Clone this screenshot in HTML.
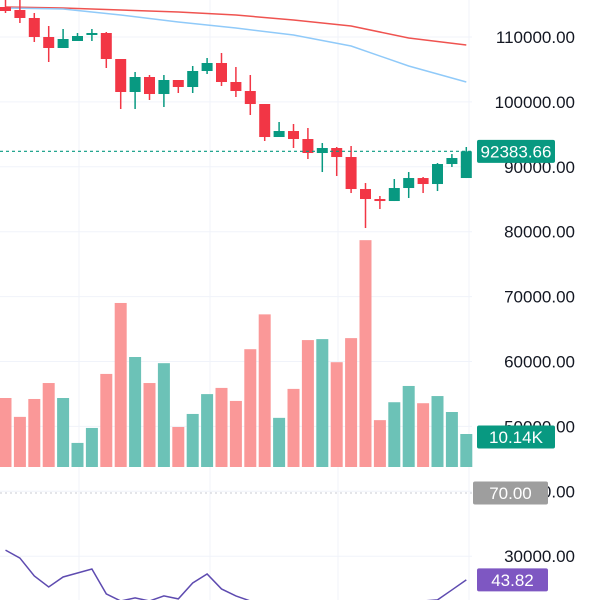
<!DOCTYPE html>
<html><head><meta charset="utf-8">
<style>
html,body{margin:0;padding:0;background:#fff;width:600px;height:600px;overflow:hidden}
svg{display:block;font-family:"Liberation Sans",sans-serif;overflow:hidden}
</style></head>
<body>
<svg id="chart" width="600" height="600" viewBox="0 0 600 600" xmlns="http://www.w3.org/2000/svg"><defs><clipPath id="clip"><rect x="0" y="0" width="600" height="600"/></clipPath></defs></svg>
<script>
const opens  =[114623,114161,112928,110000,108305,109384,110308,110616,106610,101525,103836,101216,103374,102295,104761,105993,103066,101679,99675,94590,95514,94282,92124,92895,91508,86577,85036,84727,86731,88271,87347,90429,88271];
const closes =[114007,112928,110000,108305,109692,110154,110616,106610,101525,103836,101216,103374,102295,104761,105993,103066,101679,99675,94590,95514,94282,92124,92895,91508,86577,85036,84727,86731,88271,87347,90429,91354,92384];
const highs  =[115702,116164,113698,111695,111233,110616,111233,110771,106610,104607,104144,104144,103374,105531,106764,107534,105377,104144,99675,96901,96593,95977,93665,93049,93203,87501,85498,88117,89196,88426,90583,91970,93049];
const lows   =[113698,112157,109230,106148,108305,109384,109384,105223,98905,98905,100292,99213,101370,101370,104298,102449,100754,97980,93974,94590,92895,91200,89196,88580,85960,80567,83494,84727,85190,85960,86268,89967,88271];
const volumes=[21.2,15.4,20.9,25.8,21.2,7.4,12.0,28.6,50.4,33.8,25.8,31.9,12.3,16.3,22.4,24.3,20.3,36.2,46.9,15.1,24.0,39.0,39.3,32.2,39.6,69.7,14.4,19.9,24.9,19.6,21.8,16.9,10.14];
const maIdx  =[0,4,8,12,16,20,24,28,32];
const maSlow =[114623,114469,114161,113853,113390,112620,111695,109846,108767];
const maFast =[114469,114315,113390,112311,111387,110308,108613,105531,103066];
const rsi    =[52.8,50.4,45,41.7,44.7,45.9,47.1,39.6,36,38.4,36.3,39,38.1,42.9,45.6,41.1,39,35.4,32,33,31,30,31,30,27,25,26,28,31,32,37.8,40.8,43.82];
const priceTicks=[110000,100000,90000,80000,70000,60000,50000,40000,30000];
const lastPrice=92383.66, lastVolLabel="10.14K", rsiLevel=70;

const svg=document.getElementById('chart');const NS='http://www.w3.org/2000/svg';
function mk(t,a,parent){const e=document.createElementNS(NS,t);for(const k in a)e.setAttribute(k,a[k]);(parent||svg).appendChild(e);return e;}
const root=mk('g',{'clip-path':'url(#clip)'});


const xOf=i=>5.5+14.4*i;
const yP=v=>37+(110000-v)*0.00649;
const yV=v=>467-v*33/10.14;
const yR=v=>Math.min(601,493+(rsiLevel-v)*3.32);
const UP='#089981',DN='#f23645';

[79,210,338,469].forEach(x=>{const l=mk('line',{x1:x,y1:0,x2:x,y2:600,stroke:'#f0f3fa','stroke-width':1},root);
});
priceTicks.forEach(v=>{const l=mk('line',{x1:0,y1:yP(v),x2:472,y2:yP(v),stroke:'#f0f3fa','stroke-width':1},root);
});

volumes.forEach((v,i)=>{const up=closes[i]>=opens[i];
const r=mk('rect',{x:xOf(i)-6,y:yV(v),width:12,height:467-yV(v),fill:up?'#6cc2b7':'#fa9898'},root);
});

function line(idx,vals,color,name){const d=idx.map((i,k)=>(k?'L':'M')+xOf(i)+' '+yP(vals[k])).join(' ');
const p=mk('path',{d:d,fill:'none',stroke:color,'stroke-width':1.5},root);}
line(maIdx,maSlow,'#ef5350','moving-average-slow');
line(maIdx,maFast,'#90caf9','moving-average-fast');

opens.forEach((o,i)=>{const c=closes[i],up=c>=o,col=up?UP:DN,x=xOf(i);
const g=mk('g',{},root);
mk('line',{x1:x,y1:Math.max(0,yP(highs[i])),x2:x,y2:yP(lows[i]),stroke:col,'stroke-width':1.5},g);
const t=Math.min(yP(o),yP(c)),h=Math.max(2,Math.abs(yP(o)-yP(c)));
mk('rect',{x:x-5.5,y:t,width:11,height:h,fill:col},g);});

const lp=mk('line',{x1:0,y1:yP(lastPrice),x2:472,y2:yP(lastPrice),stroke:UP,'stroke-width':1.2,'stroke-dasharray':'3 3'},root);


const rl=mk('line',{x1:0,y1:yR(rsiLevel),x2:472,y2:yR(rsiLevel),stroke:'#c8cbd3','stroke-width':1,'stroke-dasharray':'2 3'},root);


const rd=rsi.map((v,i)=>(i?'L':'M')+xOf(i)+' '+yR(v)).join(' ');
const rp=mk('path',{d:rd,fill:'none',stroke:'#5e4bb0','stroke-width':1.5},root);


priceTicks.forEach(v=>{const t=mk('text',{x:575,y:yP(v)+6,'text-anchor':'end','font-size':17,fill:'#131722'},root);
t.textContent=v.toFixed(2);});

function badge(y,w,x,text,fill,name){const g=mk('g',{},root);
mk('rect',{x:x,y:y-11.5,width:w,height:23,rx:2,fill:fill},g);
const t=mk('text',{x:x+w/2,y:y+6,'text-anchor':'middle','font-size':17,fill:'#fff'},g);t.textContent=text;}
badge(yP(lastPrice),78,477,lastPrice.toFixed(2),UP,'last-price-badge');
badge(437,78,477,lastVolLabel,UP,'volume-badge');
badge(yR(rsiLevel),75,473,rsiLevel.toFixed(2),'#9e9e9e','rsi-level-badge');
badge(yR(rsi[rsi.length-1]),71,477,rsi[rsi.length-1].toFixed(2),'#7e57c2','rsi-value-badge');
</script>
</body></html>
